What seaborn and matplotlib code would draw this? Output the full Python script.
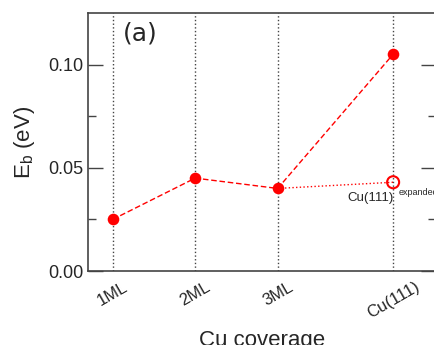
import matplotlib
matplotlib.use('Agg')
import matplotlib.pyplot as plt
import seaborn as sns
import pandas as pd

# coverage categories and binding energies (eV)
coverage = ['1ML', '2ML', '3ML', 'Cu(111)']
xpos = [1, 2, 3, 4.4]
eb = [0.025, 0.045, 0.040, 0.105]
eb_expanded = 0.043

sns.set_style('ticks')
plt.rcParams['font.family'] = ['Liberation Sans', 'DejaVu Sans']

df = pd.DataFrame({'x': xpos, 'Eb': eb, 'coverage': coverage})
df_exp = pd.DataFrame({'x': [xpos[2], xpos[3]], 'Eb': [eb[2], eb_expanded]})

fig = plt.figure(figsize=(4.34, 3.45), dpi=100)
ax = fig.add_axes([88 / 434, 74 / 345, 348 / 434, 258 / 345])

# dotted guide lines at each coverage
for x in xpos:
    ax.axvline(x, color='#444444', linestyle=':', linewidth=1, zorder=0)

sns.lineplot(data=df_exp, x='x', y='Eb', ax=ax, color='red', linestyle=':',
             linewidth=1, zorder=2)
sns.lineplot(data=df, x='x', y='Eb', ax=ax, color='red', linestyle='--',
             linewidth=1, zorder=3)
ax.lines[-1].set_dashes([4, 2])
sns.scatterplot(data=df, x='x', y='Eb', ax=ax, color='red', s=70,
                linewidth=0, zorder=4)
ax.scatter([xpos[3]], [eb_expanded], s=75, facecolors='none',
           edgecolors='red', linewidths=1.5, zorder=4)

ax.text(xpos[3] + 0.01, 0.0353, 'Cu(111)', ha='right', va='center', fontsize=9.5)
ax.text(xpos[3] + 0.07, 0.0378, 'expanded', ha='left', va='center', fontsize=6.5,
        clip_on=False)
ax.text(1.12, 0.115, '(a)', fontsize=18, va='center', family='DejaVu Sans')

ax.set_xlim(0.7, 4.92)
ax.set_ylim(0, 0.125)
ax.set_xticks(xpos)
ax.set_xticklabels(coverage, rotation=30, fontsize=12)
ax.set_yticks([0, 0.05, 0.10])
ax.set_yticklabels(['0.00', '0.05', '0.10'], fontsize=13)
ax.set_yticks([0.025, 0.075], minor=True)
ax.tick_params(axis='x', length=0, pad=6)
ax.tick_params(axis='y', which='major', direction='in', length=11, width=1,
               right=True, color='#444444')
ax.tick_params(axis='y', which='minor', direction='in', length=6, width=1,
               right=True, color='#444444')
ax.set_xlabel('Cu coverage', fontsize=16, labelpad=6)
ax.set_ylabel(r'E$_\mathregular{b}$ (eV)', fontsize=16, labelpad=8)

for sp in ax.spines.values():
    sp.set_color('#444444')
    sp.set_linewidth(1.2)

fig.savefig('out.png', dpi=100)
